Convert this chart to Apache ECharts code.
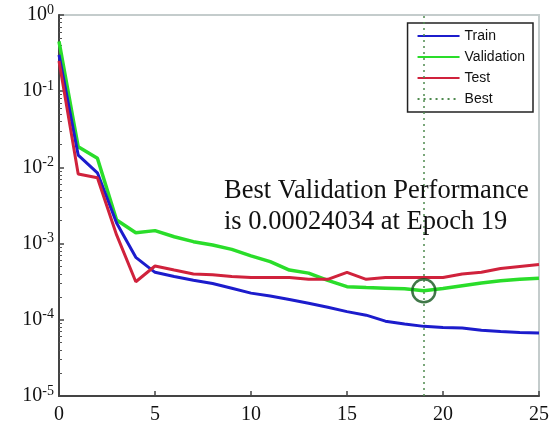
<!DOCTYPE html>
<html>
<head>
<meta charset="utf-8">
<script src="https://cdn.jsdelivr.net/npm/echarts@6/dist/echarts.min.js"></script>
<style>
  html, body { margin: 0; padding: 0; background: #fff; }
  #chart { width: 560px; height: 439px; }
</style>
</head>
<body>
<div id="chart"></div>
<script>
// epochs and performance (mse) per epoch
var epochs = [0, 1, 2, 3, 4, 5, 6, 7, 8, 9, 10, 11, 12, 13, 14, 15, 16, 17, 18, 19, 20, 21, 22, 23, 24, 25];
var train = [0.3, 0.0145, 0.0085, 0.00186, 0.00066, 0.00042, 0.00037, 0.00033, 0.0003, 0.00026, 0.000224, 0.000205, 0.000185,
    0.000165, 0.000146, 0.000128, 0.000115, 0.000096, 0.000088, 0.000082, 0.000079, 0.000078, 0.000073, 0.00007, 0.000068, 0.000067];
var validation = [0.45, 0.0186, 0.0132, 0.00204, 0.00139, 0.00148, 0.00123, 0.00106, 0.00096, 0.00084, 0.00069, 0.00058, 0.00045,
    0.00041, 0.00033, 0.000272, 0.000265, 0.00026, 0.000255, 0.00024034, 0.000257, 0.00028, 0.000305, 0.000325, 0.00034, 0.00035];
var test = [0.25, 0.0082, 0.0073, 0.0013, 0.000316, 0.000508, 0.00045, 0.0004, 0.00039, 0.00037, 0.00036, 0.00036, 0.00036,
    0.00034, 0.00034, 0.00042, 0.00034, 0.00036, 0.00036, 0.00036, 0.00036, 0.0004, 0.00042, 0.00047, 0.0005, 0.00053];
var bestEpoch = 19;
var bestValue = 0.00024034;
var xTicks = [0, 5, 10, 15, 20, 25];
var yTicks = [1e-5, 1e-4, 1e-3, 1e-2, 1e-1, 1];

function pairs(ys) {
    return epochs.map(function (e, i) { return [e, ys[i]]; });
}

var serif = 'Liberation Serif';
var bestColor = '#4f8a4f';

var myChart = echarts.init(document.getElementById('chart'));

var option = {
    animation: false,
    grid: {
        left: 59, right: 21, top: 15, bottom: 43,
        show: true,
        borderColor: '#c4cccc',
        borderWidth: 2,
        backgroundColor: '#fff'
    },
    legend: {
        orient: 'vertical',
        right: 27,
        top: 23,
        data: ['Train', 'Validation', 'Test', 'Best'],
        itemWidth: 42,
        itemHeight: 14,
        itemGap: 7,
        padding: [6, 8, 6, 9],
        borderColor: '#222',
        borderWidth: 1.5,
        backgroundColor: '#fff',
        // hide the marker dot, keep only the line sample
        itemStyle: { opacity: 0 },
        textStyle: { fontFamily: 'Liberation Sans', fontSize: 14, color: '#111' }
    },
    graphic: [{
        type: 'text',
        left: 224,
        top: 176,
        style: {
            text: 'Best Validation Performance\nis 0.00024034 at Epoch 19',
            font: '26.5px "Liberation Serif"',
            lineHeight: 31,
            fill: '#111'
        },
        z: 20
    }],
    xAxis: {
        type: 'value',
        min: xTicks[0],
        max: xTicks[xTicks.length - 1],
        interval: 5,
        axisLine: { lineStyle: { color: '#444', width: 2 } },
        axisTick: { inside: true, length: 5, lineStyle: { color: '#444', width: 1.5 } },
        axisLabel: { fontFamily: serif, fontSize: 20, color: '#111', margin: 9 },
        splitLine: { show: false }
    },
    yAxis: {
        type: 'log',
        logBase: 10,
        min: yTicks[0],
        max: yTicks[yTicks.length - 1],
        axisLine: { lineStyle: { color: '#444', width: 2 } },
        axisTick: { inside: true, length: 5, lineStyle: { color: '#444', width: 1.5 } },
        minorTick: { show: true, splitNumber: 9, length: 3, lineStyle: { color: '#555' } },
        axisLabel: {
            margin: 5,
            formatter: function (v) {
                var e = Math.round(Math.log(v) / Math.LN10);
                return '{b|10}{e|' + e + '}';
            },
            rich: {
                b: { fontFamily: serif, fontSize: 20, color: '#111' },
                e: { fontFamily: serif, fontSize: 14, color: '#111', verticalAlign: 'top', padding: [0, 0, 10, 0] }
            }
        },
        splitLine: { show: false }
    },
    series: [
        {
            name: 'Train', type: 'line', data: pairs(train), symbol: 'none',
            lineStyle: { color: '#1c1ccc', width: 3 }, itemStyle: { color: '#1c1ccc' }, z: 5
        },
        {
            name: 'Validation', type: 'line', data: pairs(validation), symbol: 'none',
            lineStyle: { color: '#2add2a', width: 3.5 }, itemStyle: { color: '#2add2a' }, z: 4
        },
        {
            name: 'Test', type: 'line', data: pairs(test), symbol: 'none',
            lineStyle: { color: '#d0223c', width: 3 }, itemStyle: { color: '#d0223c' }, z: 6
        },
        {
            name: 'Best', type: 'line', data: [], symbol: 'none',
            lineStyle: { color: bestColor, width: 1.5, type: [2, 4] }, itemStyle: { color: bestColor },
            markLine: {
                silent: true,
                symbol: 'none',
                label: { show: false },
                lineStyle: { color: bestColor, width: 1.5, type: [2, 4] },
                data: [{ yAxis: bestValue }, { xAxis: bestEpoch }]
            },
            z: 3
        },
        {
            name: 'BestPoint', type: 'scatter', data: [[bestEpoch, bestValue]],
            symbol: 'circle', symbolSize: 23,
            itemStyle: { color: 'rgba(0,0,0,0)', borderColor: '#12561c', borderWidth: 2.5 },
            z: 7
        }
    ]
};

myChart.setOption(option);
</script>
</body>
</html>
